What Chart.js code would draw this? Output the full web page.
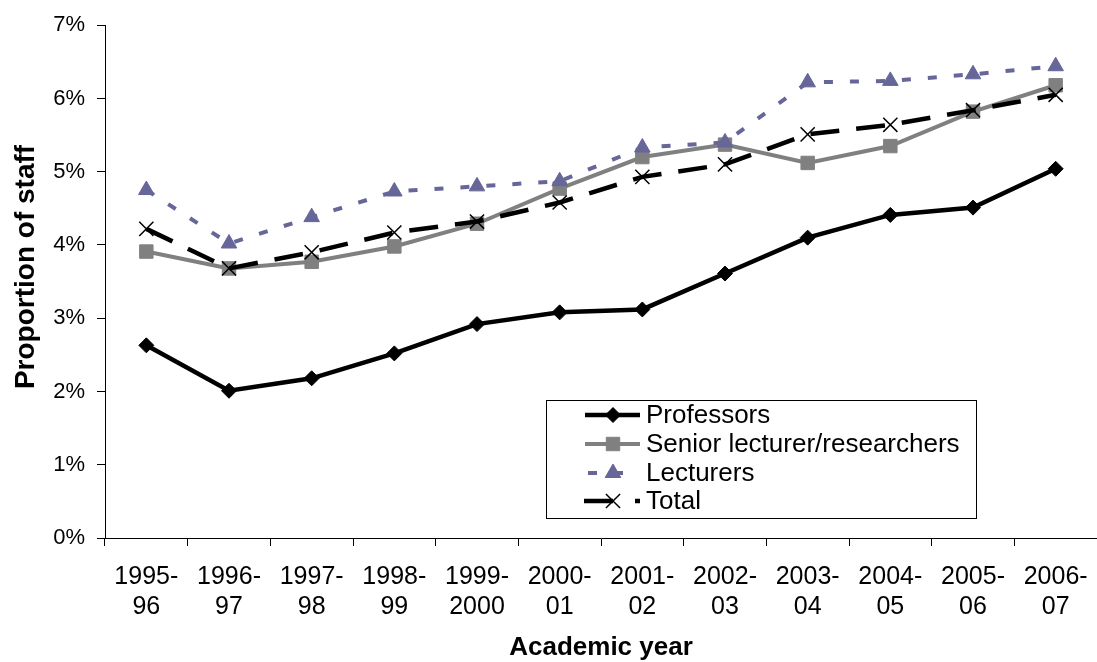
<!DOCTYPE html>
<html>
<head>
<meta charset="utf-8">
<script src="https://cdn.jsdelivr.net/npm/chart.js@4.4.1/dist/chart.umd.min.js"></script>
<style>
  html, body { margin: 0; padding: 0; background: #ffffff; }
  #wrap { width: 1097px; height: 662px; position: relative; }
</style>
</head>
<body>
<div id="wrap"><canvas id="chart" width="1097" height="662"></canvas></div>
<script>
// Academic years shown on the x axis
const years = ['1995-96', '1996-97', '1997-98', '1998-99', '1999-2000', '2000-01',
               '2001-02', '2002-03', '2003-04', '2004-05', '2005-06', '2006-07'];

// Proportion of staff, in percent
const professors = [2.63, 2.01, 2.18, 2.52, 2.92, 3.08, 3.12, 3.61, 4.10, 4.41, 4.51, 5.04];
const seniorLecturers = [3.91, 3.68, 3.77, 3.98, 4.29, 4.77, 5.20, 5.37, 5.12, 5.35, 5.82, 6.18];
const lecturers = [4.75, 4.02, 4.38, 4.73, 4.80, 4.87, 5.33, 5.40, 6.22, 6.24, 6.33, 6.44];
const total = [4.22, 3.68, 3.90, 4.17, 4.32, 4.58, 4.93, 5.10, 5.51, 5.64, 5.84, 6.05];

// Y axis tick values
const yTicks = [0, 1, 2, 3, 4, 5, 6, 7];

const FONT = '"Liberation Sans", Arial, Helvetica, sans-serif';
const Y_TITLE = 'Proportion of staff';

// Vertical axis title, set a little below the middle of the axis
const yAxisTitle = {
  id: 'yAxisTitle',
  afterDraw(chart) {
    const ctx = chart.ctx;
    ctx.save();
    ctx.translate(26, 267);
    ctx.rotate(-Math.PI / 2);
    ctx.fillStyle = '#000000';
    ctx.font = 'bold 28px ' + FONT;
    ctx.textAlign = 'center';
    ctx.textBaseline = 'middle';
    ctx.fillText(Y_TITLE, 0, 0);
    ctx.restore();
  }
};

// Legend box drawn inside the plot area
const boxLegend = {
  id: 'boxLegend',
  afterDraw(chart) {
    const ctx = chart.ctx;
    const bx = 546.5, by = 400.5, bw = 430, bh = 118;
    ctx.save();
    ctx.fillStyle = '#ffffff';
    ctx.fillRect(bx, by, bw, bh);
    ctx.strokeStyle = '#000000';
    ctx.lineWidth = 1;
    ctx.strokeRect(bx, by, bw, bh);
    const rowY = [415, 444, 473, 501];
    const x0 = 585, x1 = 640, xm = 613;
    chart.data.datasets.forEach((ds, i) => {
      const y = rowY[i];
      ctx.save();
      ctx.strokeStyle = ds.borderColor;
      ctx.lineWidth = ds.borderWidth;
      ctx.lineCap = 'butt';
      ctx.setLineDash(ds.legendDash || []);
      ctx.beginPath();
      ctx.moveTo(ds.legendDash ? ds.legendStart : x0, y);
      ctx.lineTo(x1, y);
      ctx.stroke();
      ctx.restore();
      ctx.save();
      ctx.fillStyle = ds.pointBackgroundColor;
      ctx.strokeStyle = ds.pointBorderColor;
      ctx.lineWidth = ds.pointBorderWidth;
      Chart.helpers.drawPoint(ctx, { pointStyle: ds.pointStyle, radius: ds.pointRadius, rotation: 0, borderWidth: ds.pointBorderWidth }, xm, y);
      ctx.restore();
      ctx.fillStyle = '#000000';
      ctx.font = '26px ' + FONT;
      ctx.textBaseline = 'middle';
      ctx.textAlign = 'left';
      ctx.fillText(ds.label, 646, y + 1);
    });
    ctx.restore();
  }
};

new Chart(document.getElementById('chart'), {
  type: 'line',
  data: {
    labels: years,
    datasets: [
      {
        label: 'Professors',
        data: professors,
        order: 3,
        borderColor: '#000000',
        borderWidth: 4.5,
        pointStyle: 'rectRot',
        pointRadius: 7.5,
        pointBackgroundColor: '#000000',
        pointBorderColor: '#000000',
        pointBorderWidth: 1
      },
      {
        label: 'Senior lecturer/researchers',
        data: seniorLecturers,
        order: 2,
        borderColor: '#808080',
        borderWidth: 4,
        pointStyle: 'rect',
        pointRadius: 9.5,
        pointBackgroundColor: '#808080',
        pointBorderColor: '#808080',
        pointBorderWidth: 1
      },
      {
        label: 'Lecturers',
        data: lecturers,
        order: 1,
        borderColor: '#666699',
        borderWidth: 4,
        borderDash: [9, 17],
        legendDash: [9, 17],
        legendStart: 588,
        pointStyle: 'triangle',
        pointRadius: 9,
        pointBackgroundColor: '#666699',
        pointBorderColor: '#666699',
        pointBorderWidth: 1
      },
      {
        label: 'Total',
        data: total,
        order: 0,
        borderColor: '#000000',
        borderWidth: 4.5,
        borderDash: [29, 17],
        legendDash: [29, 22],
        legendStart: 584,
        pointStyle: 'crossRot',
        pointRadius: 10,
        pointBackgroundColor: '#000000',
        pointBorderColor: '#000000',
        pointBorderWidth: 1.5
      }
    ]
  },
  options: {
    responsive: false,
    animation: false,
    devicePixelRatio: 1,
    layout: { autoPadding: false, padding: { top: 24, right: 0, bottom: 0, left: 0 } },
    elements: { line: { tension: 0, fill: false }, point: { hoverRadius: 8 } },
    plugins: {
      legend: { display: false },
      tooltip: { enabled: false }
    },
    scales: {
      x: {
        type: 'category',
        offset: true,
        afterFit(scale) {
          scale.height = 124;
          scale.paddingLeft = 0;
          scale.paddingRight = 0;
        },
        grid: {
          offset: true,
          drawOnChartArea: false,
          drawTicks: true,
          tickLength: 8,
          color: '#000000'
        },
        border: { display: true, color: '#000000', width: 1 },
        ticks: {
          color: '#000000',
          font: { family: FONT, size: 25, lineHeight: 1.2 },
          padding: 16,
          maxRotation: 0,
          autoSkip: false,
          callback(value, index) {
            const s = years[index];
            const cut = s.indexOf('-') + 1;
            return [s.slice(0, cut), s.slice(cut)];
          }
        },
        title: {
          display: true,
          text: 'Academic year',
          color: '#000000',
          font: { family: FONT, size: 26, weight: 'bold', lineHeight: 1 },
          padding: { top: 0, bottom: 1 }
        }
      },
      y: {
        min: 0,
        max: 7,
        afterFit(scale) { scale.width = 105; },
        afterBuildTicks(scale) { scale.ticks = yTicks.map(v => ({ value: v })); },
        grid: {
          drawOnChartArea: false,
          drawTicks: true,
          tickLength: 8,
          color: '#000000'
        },
        border: { display: true, color: '#000000', width: 1 },
        ticks: {
          color: '#000000',
          font: { family: FONT, size: 22 },
          padding: 12,
          callback(v) { return v + '%'; }
        },
        title: { display: false }
      }
    }
  },
  plugins: [yAxisTitle, boxLegend]
});
</script>
</body>
</html>
